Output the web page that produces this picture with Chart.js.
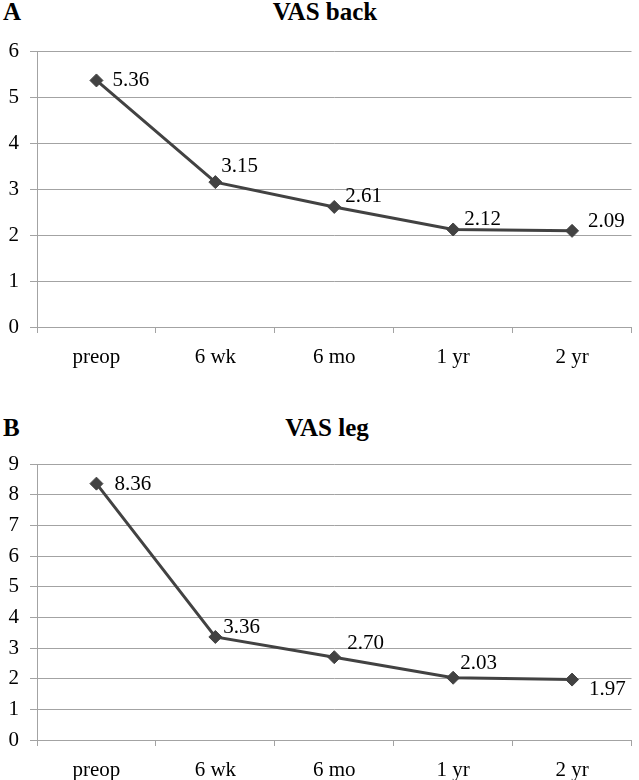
<!DOCTYPE html>
<html>
<head>
<meta charset="utf-8">
<script src="https://cdn.jsdelivr.net/npm/chart.js@4"></script>
<style>
  html, body { margin: 0; padding: 0; background: #fff; }
  body { width: 639px; height: 780px; position: relative; overflow: hidden; }
  canvas { position: absolute; left: 0; }
  .txt { position: absolute; font-family: "Liberation Serif", "DejaVu Serif", "Times New Roman", serif; font-weight: bold; font-size: 25px; line-height: 25px; color: #000; white-space: nowrap; }
</style>
</head>
<body>
<div class="txt" style="left:3px; top:-1px;">A</div>
<div class="txt" style="left:0; width:650px; text-align:center; top:-1px;">VAS back</div>
<canvas id="chartA" width="639" height="390" style="top:0"></canvas>
<div class="txt" style="left:3px; top:415px;">B</div>
<div class="txt" style="left:0; width:654px; text-align:center; top:415px;">VAS leg</div>
<canvas id="chartB" width="639" height="390" style="top:390px"></canvas>
<script>
// ---- data ----
const categories = ["preop", "6 wk", "6 mo", "1 yr", "2 yr"];
const vasBack = [5.36, 3.15, 2.61, 2.12, 2.09];
const vasLeg = [8.36, 3.36, 2.70, 2.03, 1.97];
const backTicks = [0, 1, 2, 3, 4, 5, 6];
const legTicks = [0, 1, 2, 3, 4, 5, 6, 7, 8, 9];

// ---- styling ----
const FONT = '"Liberation Serif", "DejaVu Serif", "Times New Roman", serif';
const GRID = '#a3a3a3';
const LINE = '#424242';

const pointLabels = {
  id: 'pointLabels',
  afterDatasetsDraw(chart, args, opts) {
    const ctx = chart.ctx;
    const meta = chart.getDatasetMeta(0);
    const vals = chart.data.datasets[0].data;
    ctx.save();
    ctx.font = '21px ' + FONT;
    ctx.fillStyle = '#000';
    ctx.textAlign = 'left';
    ctx.textBaseline = 'middle';
    meta.data.forEach((pt, i) => {
      const off = opts.offsets[i] || [12, -10];
      ctx.fillText(Number(vals[i]).toFixed(2), pt.x + off[0], pt.y + off[1]);
    });
    ctx.restore();
  }
};

function makeChart(id, values, ticks, topPad, axisH, offsets) {
  const maxV = ticks[ticks.length - 1];
  return new Chart(document.getElementById(id), {
    type: 'line',
    data: {
      labels: categories,
      datasets: [{
        data: values,
        borderColor: LINE,
        backgroundColor: LINE,
        borderWidth: 3,
        pointStyle: 'rectRot',
        pointRadius: 6.5,
        pointBorderWidth: 1,
        pointBackgroundColor: LINE,
        pointBorderColor: LINE,
        tension: 0,
        clip: false
      }]
    },
    options: {
      responsive: false,
      animation: false,
      devicePixelRatio: 1,
      layout: { padding: { top: topPad, right: 3, left: 0, bottom: 0 } },
      plugins: {
        legend: { display: false },
        tooltip: { enabled: false },
        title: { display: false },
        pointLabels: { offsets: offsets }
      },
      scales: {
        x: {
          type: 'category',
          offset: true,
          grid: { offset: true, drawOnChartArea: false, drawTicks: true, tickLength: 6, color: GRID, lineWidth: 1 },
          border: { display: true, color: GRID, width: 1 },
          ticks: { color: '#000', font: { family: FONT, size: 21 }, padding: 12, maxRotation: 0, autoSkip: false },
          afterFit(scale) { scale.height = axisH; }
        },
        y: {
          min: 0,
          max: maxV,
          afterBuildTicks(scale) { scale.ticks = ticks.map(v => ({ value: v })); },
          grid: { color: GRID, lineWidth: 1, drawTicks: true, tickLength: 7 },
          border: { display: true, color: GRID, width: 1 },
          ticks: { color: '#000', font: { family: FONT, size: 21 }, padding: 11 },
          afterFit(scale) { scale.width = 37; }
        }
      }
    },
    plugins: [pointLabels]
  });
}

makeChart('chartA', vasBack, backTicks, 51, 63,
  [[16, 0], [6, -16], [11, -10], [11, -10], [16, -9]]);
makeChart('chartB', vasLeg, legTicks, 74, 40,
  [[18, 1], [8, -9], [13, -14], [7, -14], [17, 10]]);
</script>
</body>
</html>
